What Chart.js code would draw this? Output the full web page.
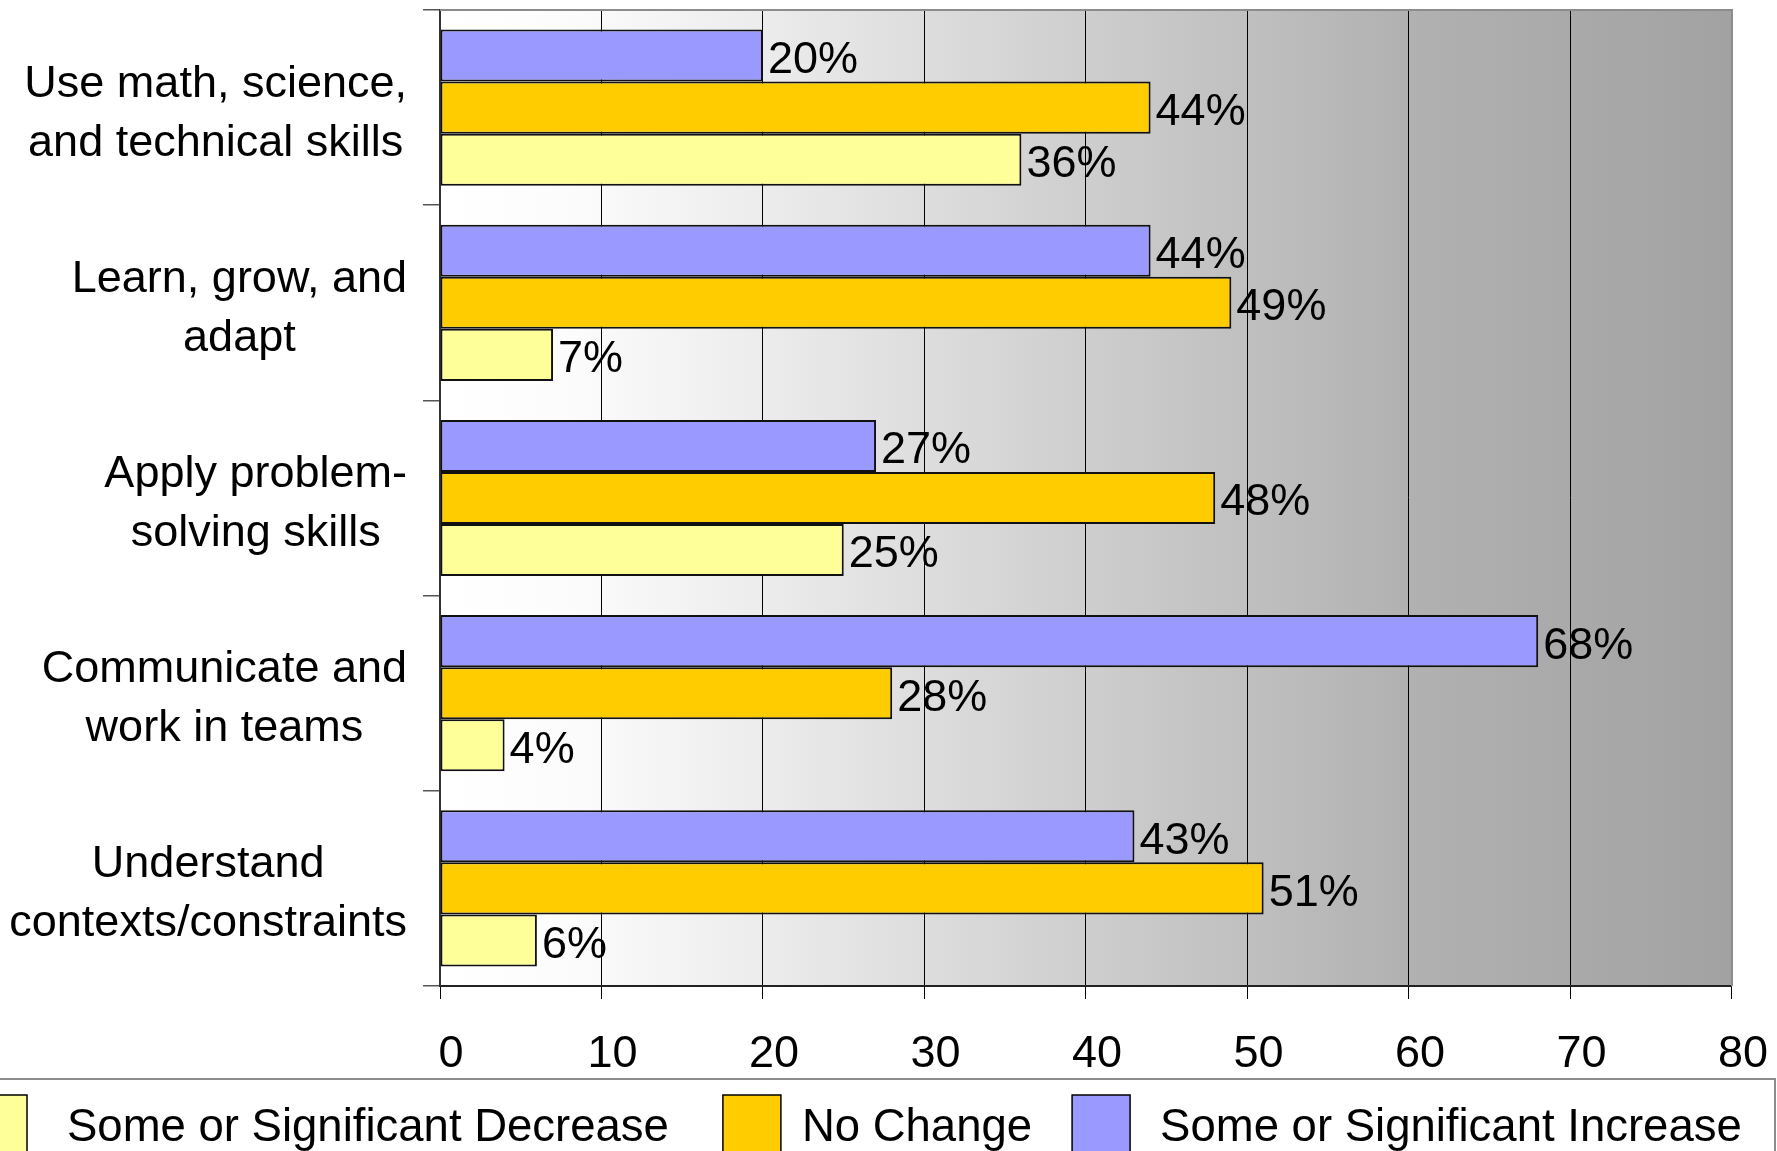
<!DOCTYPE html>
<html>
<head>
<meta charset="utf-8">
<script src="https://cdn.jsdelivr.net/npm/chart.js@4.4.1/dist/chart.umd.min.js"></script>
<style>
html,body{margin:0;padding:0;background:#ffffff;overflow:hidden;}
#wrap{width:1777px;height:1151px;position:relative;}
canvas{display:block;}
</style>
</head>
<body>
<div id="wrap"><canvas id="c" width="1777" height="1151"></canvas></div>
<script>
// ---- data ----
const categories = [
  ["Use math, science,", "and technical skills"],
  ["Learn, grow, and", "adapt"],
  ["Apply problem-", "solving skills"],
  ["Communicate and", "work in teams"],
  ["Understand", "contexts/constraints"]
];
const seriesNames = ["Some or Significant Increase", "No Change", "Some or Significant Decrease"];
const increaseValues = [20, 44, 27, 68, 43];
const noChangeValues = [44, 49, 48, 28, 51];
const decreaseValues = [36, 7, 25, 4, 6];
const xTickLabels = ["0", "10", "20", "30", "40", "50", "60", "70", "80"];

// ---- styles ----
const FONT = "'Liberation Sans', Arial, sans-serif";
const FS = 45;
const colors = ["#9999FF", "#FFCC00", "#FFFF99"];
Chart.defaults.font.family = FONT;
Chart.defaults.color = "#000";

const bgPlugin = {
  id: "bg",
  beforeDraw(chart) {
    const { ctx, chartArea: a } = chart;
    const g = ctx.createLinearGradient(a.left, 0, a.right, 0);
    g.addColorStop(0, "#ffffff");
    g.addColorStop(0.1, "#fcfcfc");
    g.addColorStop(0.25, "#ececec");
    g.addColorStop(0.5, "#cecece");
    g.addColorStop(0.75, "#b1b1b1");
    g.addColorStop(1, "#a2a2a2");
    ctx.save();
    ctx.fillStyle = g;
    ctx.fillRect(a.left, a.top, a.right - a.left, a.bottom - a.top);
    ctx.restore();
  }
};

const framePlugin = {
  id: "frame",
  afterDatasetsDraw(chart) {
    const { ctx, chartArea: a } = chart;
    ctx.save();
    ctx.strokeStyle = "#8c8c8c";
    ctx.lineWidth = 2;
    ctx.beginPath();
    ctx.moveTo(a.left, a.top);
    ctx.lineTo(a.right, a.top);
    ctx.lineTo(a.right, a.bottom);
    ctx.stroke();
    ctx.restore();
  }
};

const dataLabelPlugin = {
  id: "dlabels",
  afterDatasetsDraw(chart) {
    const { ctx } = chart;
    ctx.save();
    ctx.font = FS + "px " + FONT;
    ctx.fillStyle = "#000";
    ctx.textAlign = "left";
    ctx.textBaseline = "middle";
    chart.data.datasets.forEach((ds, di) => {
      const meta = chart.getDatasetMeta(di);
      meta.data.forEach((bar, i) => {
        ctx.fillText(ds.data[i] + "%", bar.x + 5, bar.y + 5);
      });
    });
    ctx.restore();
  }
};

const yLabelPlugin = {
  id: "ylabels",
  afterDraw(chart) {
    const { ctx, chartArea: a, scales } = chart;
    const y = scales.y;
    ctx.save();
    ctx.font = FS + "px " + FONT;
    ctx.fillStyle = "#000";
    ctx.textAlign = "center";
    ctx.textBaseline = "middle";
    const lh = 59;
    chart.data.labels.forEach((lines, i) => {
      const cy = y.getPixelForValue(i) + 6;
      const w = Math.max(...lines.map(l => ctx.measureText(l).width));
      const cx = a.left - 33 - w / 2;
      lines.forEach((l, j) => {
        ctx.fillText(l, cx, cy + (j - (lines.length - 1) / 2) * lh);
      });
    });
    ctx.restore();
  }
};

const legendPlugin = {
  id: "customLegend",
  afterDraw(chart) {
    const { ctx } = chart;
    const top = chart.height - 72;
    ctx.save();
    ctx.strokeStyle = "#8c8c8c";
    ctx.lineWidth = 2;
    ctx.beginPath();
    ctx.moveTo(-2, top);
    ctx.lineTo(chart.width - 2, top);
    ctx.lineTo(chart.width - 2, chart.height + 5);
    ctx.stroke();
    ctx.font = "45.5px " + FONT;
    ctx.textAlign = "left";
    ctx.textBaseline = "middle";
    const cy = top + 47;
    const gapAfterBox = [40, 21, 30];
    const gapAfterText = [54, 40, 0];
    let x = -31;
    [2, 1, 0].forEach((di, k) => {
      const ds = chart.data.datasets[di];
      ctx.fillStyle = ds.backgroundColor;
      ctx.fillRect(x, cy - 31, 58, 62);
      ctx.strokeStyle = "#000";
      ctx.lineWidth = 1.5;
      ctx.strokeRect(x, cy - 31, 58, 62);
      x += 58 + gapAfterBox[k];
      ctx.fillStyle = "#000";
      ctx.fillText(ds.label, x, cy + 2);
      x += ctx.measureText(ds.label).width + gapAfterText[k];
    });
    ctx.restore();
  }
};

new Chart(document.getElementById("c"), {
  type: "bar",
  data: {
    labels: categories,
    datasets: [
      { label: seriesNames[0], data: increaseValues, backgroundColor: colors[0] },
      { label: seriesNames[1], data: noChangeValues, backgroundColor: colors[1] },
      { label: seriesNames[2], data: decreaseValues, backgroundColor: colors[2] }
    ].map(d => Object.assign(d, {
      borderColor: "#111",
      borderWidth: 2,
      borderSkipped: false,
      categoryPercentage: 0.8,
      barPercentage: 1.0
    }))
  },
  options: {
    indexAxis: "y",
    responsive: false,
    animation: false,
    devicePixelRatio: 1,
    layout: { padding: { left: 423, right: 38, top: 10, bottom: 40 } },
    plugins: {
      legend: { display: false },
      tooltip: { enabled: false }
    },
    scales: {
      x: {
        min: 0,
        max: 80,
        ticks: {
          stepSize: 10,
          font: { size: FS, family: FONT, lineHeight: 1.6 },
          color: "#000",
          padding: 20,
          labelOffset: 11,
          callback: (v, i) => xTickLabels[i]
        },
        grid: { color: "#000", lineWidth: 1, tickLength: 13, tickColor: "#000" },
        border: { display: true, color: "#222", width: 2 }
      },
      y: {
        ticks: { display: false },
        grid: {
          display: true,
          drawOnChartArea: false,
          drawTicks: true,
          tickLength: 17,
          color: "#555",
          lineWidth: 1.5,
          offset: true
        },
        border: { display: true, color: "#333", width: 2 }
      }
    }
  },
  plugins: [bgPlugin, framePlugin, dataLabelPlugin, yLabelPlugin, legendPlugin]
});
</script>
</body>
</html>
